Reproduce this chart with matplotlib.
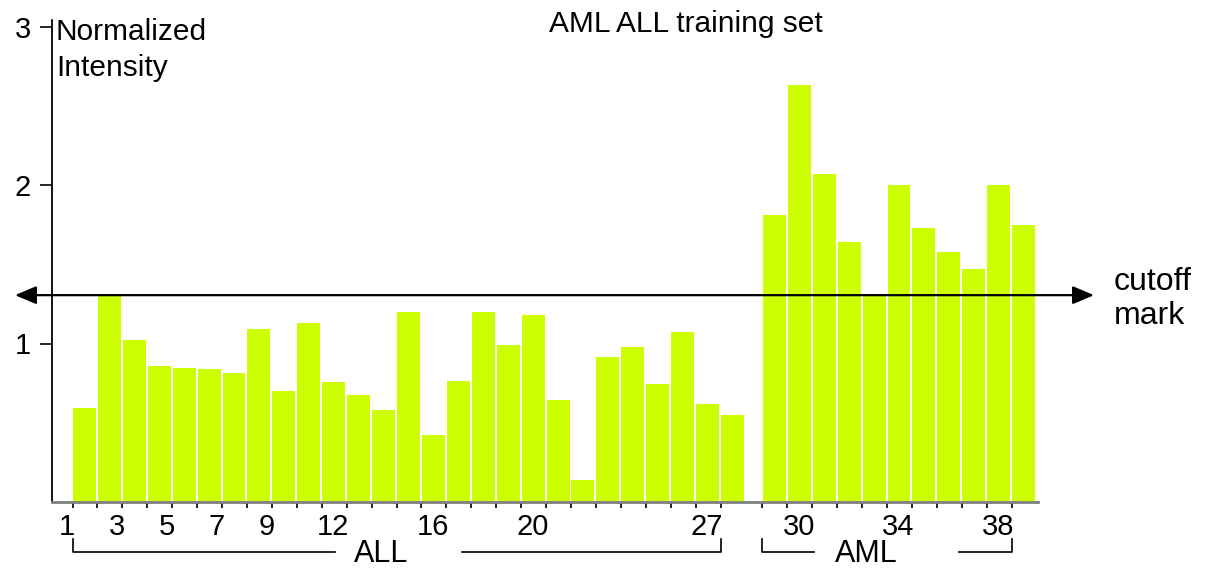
import matplotlib
matplotlib.use("Agg")
import matplotlib.pyplot as plt
import numpy as np
from matplotlib.transforms import blended_transform_factory

plt.rcParams['font.family'] = ['Liberation Sans', 'DejaVu Sans']

# ---- data ----
all_values = [0.59, 1.30, 1.02, 0.86, 0.845, 0.84, 0.815, 1.09, 0.70, 1.13,
              0.76, 0.675, 0.58, 1.20, 0.42, 0.765, 1.20, 0.99, 1.18, 0.645,
              0.14, 0.915, 0.98, 0.745, 1.07, 0.62, 0.55]
aml_values = [1.81, 2.63, 2.07, 1.64, 1.315, 2.00, 1.73, 1.58, 1.47, 2.00, 1.745]
sample_labels = ["1", "3", "5", "7", "9", "12", "16", "20", "27", "30", "34", "38"]
y_ticks = [1, 2, 3]
cutoff = 1.305
title = "AML ALL training set"
ylabel = "Normalized\nIntensity"
group_names = ["ALL", "AML"]

# ---- layout ----
W, H = 1211, 571
fig = plt.figure(figsize=(W / 100, H / 100), dpi=100)
ax = fig.add_axes([52 / W, 1 - 502 / H, (1038 - 52) / W, (502 - 20) / H])

gap = 0.68
n_all = len(all_values)
x_all = np.arange(1, n_all + 1, dtype=float)
x_aml = np.arange(n_all + 1, n_all + 1 + len(aml_values), dtype=float) + gap
x = np.concatenate([x_all, x_aml])
vals = all_values + aml_values

bar_color = '#CCFF00'
ax.bar(x, vals, width=0.92, color=bar_color, edgecolor='none', zorder=2)

px = lambda p: 1 + (p - 84.5) / 24.95
ax.set_xlim(px(52), px(1039))
ax.set_ylim(0, (502 - 20) / 158.5)

for s in ['top', 'right']:
    ax.spines[s].set_visible(False)
ax.spines['left'].set_color('black')
ax.spines['left'].set_linewidth(1.3)
ax.spines['bottom'].set_color('#808080')
ax.spines['bottom'].set_linewidth(2)

# y ticks
ax.set_yticks(y_ticks)
ax.set_yticklabels([str(t) for t in y_ticks], fontsize=21)
ax.tick_params(axis='y', direction='out', length=9, width=1.2, pad=6, color='black')

# x ticks at every bar's left edge, no tick labels (labels drawn as text)
edges = x - 0.48
ax.set_xticks(edges)
ax.set_xticklabels([])
ax.tick_params(axis='x', direction='out', length=4, width=1.2, color='black')

# sample number labels, right aligned at left edge of that bar
trans_fx = blended_transform_factory(ax.transData, fig.transFigure)
for lab in sample_labels:
    i = int(lab) - 1
    ax.text(edges[i] + 0.1, 1 - 527 / H, lab, ha='right', va='center',
            fontsize=21, transform=trans_fx, clip_on=False)

# group brackets
y_h = 1 - 552 / H
y_v = 1 - 539 / H
all_l, all_r = edges[0], edges[n_all - 1]
aml_l, aml_r = edges[n_all], edges[-1]
lk = dict(color='black', lw=1.2, transform=trans_fx, clip_on=False)
ax.plot([all_l, all_l, px(335)], [y_v, y_h, y_h], **lk)
ax.plot([px(462), all_r, all_r], [y_h, y_h, y_v], **lk)
ax.plot([aml_l, aml_l, px(815)], [y_v, y_h, y_h], **lk)
ax.plot([px(960), aml_r, aml_r], [y_h, y_h, y_v], **lk)
ax.text(px(381), 1 - 554 / H, group_names[0], ha='center', va='center',
        fontsize=22, transform=trans_fx, clip_on=False)
ax.text(px(867), 1 - 554 / H, group_names[1], ha='center', va='center',
        fontsize=22, transform=trans_fx, clip_on=False)

# cutoff arrow
ax.annotate('', xy=(1094 / W, cutoff), xytext=(15 / W, cutoff),
            xycoords=('figure fraction', 'data'), textcoords=('figure fraction', 'data'),
            arrowprops=dict(arrowstyle='<|-|>,head_length=1.3,head_width=0.55',
                            color='black', lw=1.6, shrinkA=0, shrinkB=0),
            annotation_clip=False, zorder=5)
fig.text(1114 / W, 1 - 299 / H, "cutoff\nmark", ha='left', va='center', fontsize=23,
         linespacing=1.15)

# title and y label
fig.text(686 / W, 1 - 24 / H, title, ha='center', va='center', fontsize=21.5)
fig.text(56 / W, 1 - 18 / H, ylabel, ha='left', va='top', fontsize=21.5, linespacing=1.35)

fig.savefig('out.png', dpi=100)
